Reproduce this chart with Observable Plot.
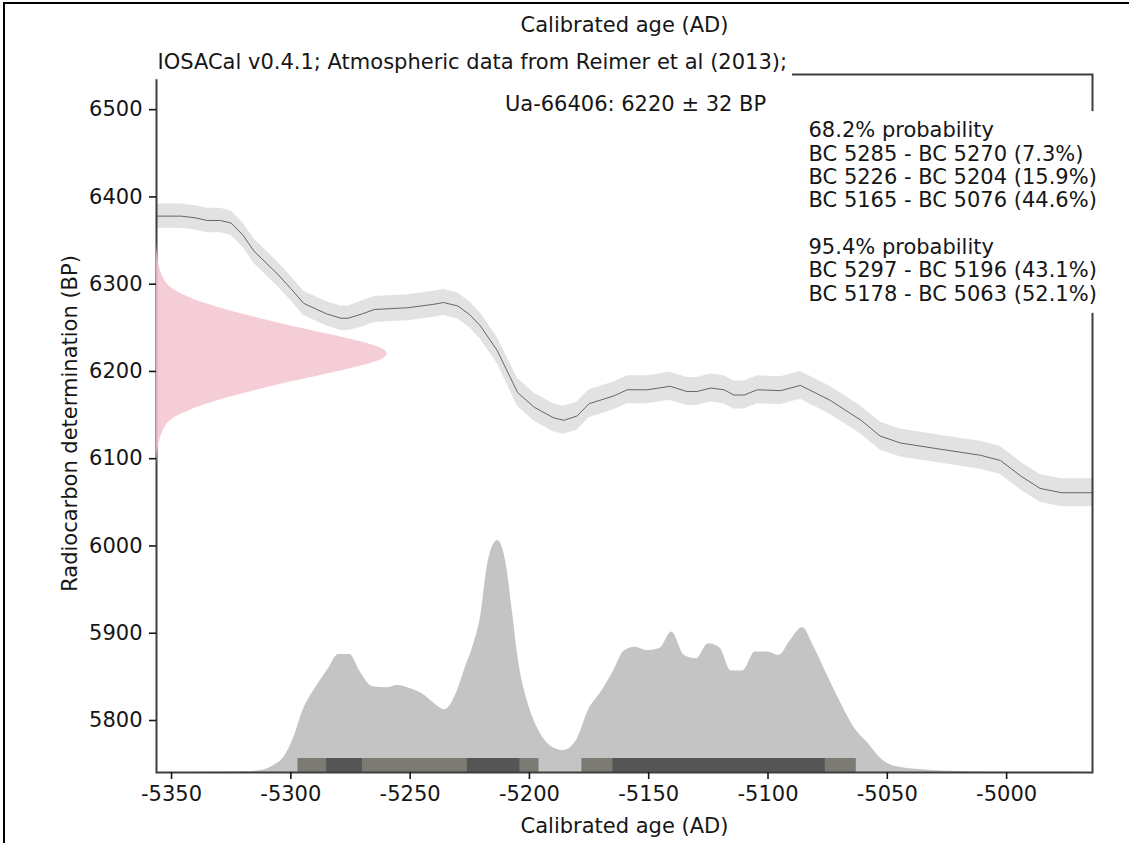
<!DOCTYPE html>
<html><head><meta charset="utf-8">
<script src="https://cdn.jsdelivr.net/npm/d3@7"></script>
<script src="https://cdn.jsdelivr.net/npm/@observablehq/plot@0.6"></script>
<style>
html,body{margin:0;padding:0;background:#fff;}
#wrap{position:relative;width:1129px;height:843px;overflow:hidden;background:#fff;}
#chart{position:absolute;left:0;top:0;}
#border{position:absolute;left:3px;top:2px;width:1140px;height:900px;border-left:2px solid #000;border-top:2px solid #000;pointer-events:none;}
</style></head>
<body><div id="wrap"><div id="chart"></div><div id="border"></div></div>
<script>
// ---- Data ----
const titleTop = "Calibrated age (AD)";
const subtitle = "IOSACal v0.4.1; Atmospheric data from Reimer et al (2013);";
const sampleLabel = "Ua-66406: 6220 \u00b1 32 BP";
const xLabel = "Calibrated age (AD)";
const yLabel = "Radiocarbon determination (BP)";

const xTicks = [-5350, -5300, -5250, -5200, -5150, -5100, -5050, -5000];
const yTicks = [5800, 5900, 6000, 6100, 6200, 6300, 6400, 6500];

// calibration curve (IntCal13)
const calYears = [-5356.3,-5346,-5340,-5335,-5329.5,-5325,-5320,-5315.5,-5305.7,-5300,
  -5294.6,-5285,-5279,-5276,-5270,-5265,-5251,-5240,-5236,-5230,
  -5225,-5220.5,-5213.5,-5205,-5198,-5190,-5185.6,-5180,-5175,-5164.6,
  -5159,-5150.6,-5141,-5134,-5129.7,-5124,-5118.5,-5114.3,-5110,-5104.5,
  -5094.7,-5086.4,-5074,-5061,-5053,-5044.5,-5028,-5011,-5002.6,-4994,
  -4986,-4977,-4964];
const calBP = [6378,6378,6376,6373,6373,6370,6356,6338,6312,6295,
  6278,6266,6261,6261,6266,6271,6273,6277,6279,6275,
  6265,6252,6224,6176,6159,6147,6144,6149,6163,6172,
  6179,6179,6183,6177,6177,6181,6179,6173,6173,6179,
  6178,6184,6167,6144,6126,6118,6111,6104,6098,6080,
  6066,6061,6061];
const calSigma = [14,14,14,14,14,14,14,14,14,14,
  14,14,14,14,15,15,15,15,15,15,
  15,15,15,16,16,16,16,16,16,16,
  16,16,16,16,16,16,16,16,16,16,
  16,16,16,16,16,16,16,16,16,16,
  16,16,16];

// calibrated probability (relative, peak = 1)
const probYears = [-5356.3,-5330,-5320,-5314.1,-5307.1,-5302.9,-5298.7,-5295.2,-5290.4,-5284.7,
  -5279.9,-5275.3,-5270.8,-5265.9,-5259.6,-5255.4,-5249.8,-5244.9,-5240.1,-5235.6,
  -5231.0,-5226.8,-5223.3,-5220.5,-5217.7,-5214.9,-5213.2,-5211.4,-5209.3,-5207.2,
  -5204.4,-5200.9,-5195.3,-5189.8,-5185.6,-5180.3,-5175.1,-5170.2,-5164.6,-5160.4,
  -5155.7,-5150.5,-5145.2,-5140.4,-5135.0,-5130.0,-5125.0,-5120.2,-5115.3,-5110.6,
  -5105.3,-5100.1,-5095.4,-5090.6,-5085.5,-5080.7,-5075.4,-5070.0,-5064.0,-5057.9,
  -5051.8,-5046.6,-5035.1,-5019.9,-5004.7,-4964];
const probDensity = [0,0.001,0.003,0.006,0.030,0.066,0.152,0.260,0.353,0.440,
  0.509,0.509,0.432,0.371,0.365,0.375,0.361,0.339,0.299,0.270,
  0.332,0.454,0.555,0.669,0.885,0.986,1.000,0.971,0.871,0.698,
  0.469,0.310,0.167,0.106,0.095,0.138,0.272,0.343,0.440,0.523,
  0.540,0.526,0.536,0.605,0.504,0.490,0.555,0.537,0.437,0.437,
  0.519,0.519,0.504,0.569,0.624,0.540,0.425,0.310,0.195,0.124,
  0.052,0.026,0.012,0.004,0.001,0];

// radiocarbon determination (relative density, peak = 1)
const pinkBP = [6092,6113,6140,6151,6163,6174,6186,6197,6205,6212,6220,6228,6235,6243,6254,6266,6277,6289,6300,6327,6348];
const pinkDensity = [0,0.004,0.032,0.10,0.21,0.36,0.54,0.73,0.86,0.96,1.0,0.96,0.86,0.73,0.54,0.36,0.21,0.10,0.032,0.004,0];

// HPD intervals
const hpd68From = [-5285, -5226, -5165];
const hpd68To   = [-5270, -5204, -5076];
const hpd68Pct  = [7.3, 15.9, 44.6];
const hpd95From = [-5297, -5178];
const hpd95To   = [-5196, -5063];
const hpd95Pct  = [43.1, 52.1];

// ---- Build ----
const xDomain = [-5356.3, -4964];
const yDomain = [5740.4, 6540.3];
const yBase = yDomain[0];
const PROB_SCALE = 265.9;  // BP units of the probability peak
const PINK_SCALE = 98;     // years of the determination peak
const BAR_H = 16;

const calib = calYears.map((x, i) => ({x, y: calBP[i], lo: calBP[i] - calSigma[i], hi: calBP[i] + calSigma[i]}));
const prob = probYears.map((x, i) => ({x, y2: yBase + probDensity[i] * PROB_SCALE}));
const pink = pinkBP.map((y, i) => ({y, x2: xDomain[0] + pinkDensity[i] * PINK_SCALE}));
const bars95 = hpd95From.map((f, i) => ({x1: f, x2: hpd95To[i]}));
const bars68 = hpd68From.map((f, i) => ({x1: f, x2: hpd68To[i]}));

const bc = v => "BC " + (-v);
const legendLines = ["68.2% probability"]
  .concat(hpd68From.map((f, i) => `${bc(f)} - ${bc(hpd68To[i])} (${hpd68Pct[i]}%)`))
  .concat([""])
  .concat(["95.4% probability"])
  .concat(hpd95From.map((f, i) => `${bc(f)} - ${bc(hpd95To[i])} (${hpd95Pct[i]}%)`));
const legendText = legendLines.join("\n");

const FONT = "DejaVu Sans, sans-serif";
const chart = Plot.plot({
  width: 1129, height: 843,
  marginLeft: 156, marginRight: 37, marginTop: 74, marginBottom: 71,
  x: {domain: xDomain},
  y: {domain: yDomain},
  style: {fontFamily: FONT, fontSize: "21px", color: "#161616", background: "transparent", overflow: "visible"},
  marks: [
    Plot.area(calib, {x1: "x", y1: "lo", y2: "hi", fill: "#e2e2e2"}),
    Plot.line(calib, {x: "x", y: "y", stroke: "#666666", strokeWidth: 1}),
    Plot.area(prob, {x1: "x", y1: () => yBase, y2: "y2", fill: "#c4c4c4", curve: "monotone-x"}),
    Plot.rect(bars95, {x1: "x1", x2: "x2", y1: () => yBase, y2: () => yBase + BAR_H, fill: "#7b7b74"}),
    Plot.rect(bars68, {x1: "x1", x2: "x2", y1: () => yBase, y2: () => yBase + BAR_H, fill: "#555555"}),
    Plot.frame({stroke: "#3d3d3d", strokeWidth: 2}),
    Plot.areaX(pink, {y: "y", x1: () => xDomain[0], x2: "x2", fill: "rgb(243,196,207)", fillOpacity: 0.85, curve: "basis"}),
    Plot.axisX({ticks: xTicks, tickFormat: d => String(d), tickSize: 7, tickPadding: 7, label: null, strokeWidth: 1.6}),
    Plot.axisY({ticks: yTicks, tickFormat: d => String(d), tickSize: 7, tickPadding: 7, label: null, strokeWidth: 1.6}),
    Plot.text([titleTop], {text: d => d, frameAnchor: "top", lineAnchor: "middle", dy: -49}),
    Plot.text([subtitle], {text: d => d, frameAnchor: "top-left", textAnchor: "start", lineAnchor: "middle", dx: 1, dy: -12, ariaDescription: "subtitle-box"}),
    Plot.text([sampleLabel], {text: d => d, frameAnchor: "top", lineAnchor: "middle", dx: 11, dy: 30}),
    Plot.text([legendText], {text: d => d, frameAnchor: "top-right", textAnchor: "start", lineAnchor: "top", lineHeight: 1.114, dx: -284, dy: 46, ariaDescription: "legend-box"}),
    Plot.text([xLabel], {text: d => d, frameAnchor: "bottom", lineAnchor: "middle", dy: 54}),
    Plot.text([yLabel], {text: d => d, frameAnchor: "left", textAnchor: "middle", lineAnchor: "middle", rotate: -90, dx: -86})
  ]
});
document.getElementById("chart").appendChild(chart);

// white boxes behind the subtitle and the interval text (as in the original)
function boxBehind(desc, pad) {
  chart.querySelectorAll(`g[aria-description="${desc}"] text`).forEach(t => {
    const b = t.getBBox();
    const r = document.createElementNS("http://www.w3.org/2000/svg", "rect");
    r.setAttribute("x", b.x - pad);
    r.setAttribute("y", b.y - pad);
    r.setAttribute("width", b.width + 2 * pad);
    r.setAttribute("height", b.height + 2 * pad);
    r.setAttribute("fill", "#fff");
    r.setAttribute("stroke", "none");
    const tr = t.getAttribute("transform");
    if (tr) r.setAttribute("transform", tr);
    t.parentNode.insertBefore(r, t);
  });
}
boxBehind("subtitle-box", 5);
boxBehind("legend-box", 7);
</script></body></html>
